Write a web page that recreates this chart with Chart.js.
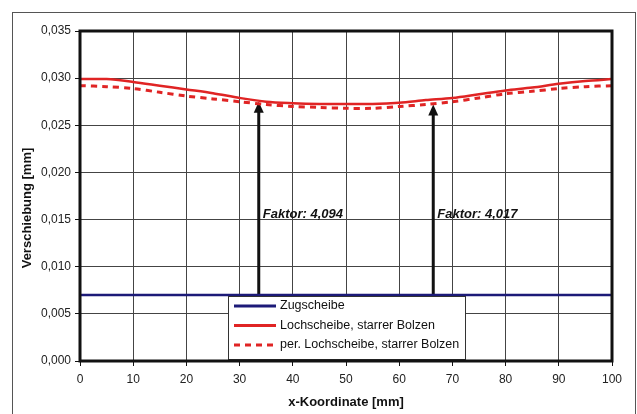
<!DOCTYPE html>
<html>
<head>
<meta charset="utf-8">
<script src="https://cdn.jsdelivr.net/npm/chart.js@4"></script>
<style>
  html, body { margin: 0; padding: 0; background: #fff; }
  #wrap { width: 637px; height: 414px; position: relative; }
</style>
</head>
<body>
<div id="wrap"><canvas id="chartVerschiebung"></canvas></div>
<script>
// Daten
const xKoord = [0, 5, 10, 15, 20, 25, 30, 35, 40, 45, 50, 55, 60, 65, 70, 75, 80, 85, 90, 95, 100];
const zugscheibe = [0.0070, 0.0070, 0.0070, 0.0070, 0.0070, 0.0070, 0.0070, 0.0070, 0.0070, 0.0070, 0.0070,
                    0.0070, 0.0070, 0.0070, 0.0070, 0.0070, 0.0070, 0.0070, 0.0070, 0.0070, 0.0070];
const lochscheibe = [0.0299, 0.0299, 0.0296, 0.0292, 0.0288, 0.0284, 0.0279, 0.0275, 0.02735, 0.02727, 0.02725,
                     0.02727, 0.0274, 0.02767, 0.0279, 0.0283, 0.0287, 0.0290, 0.0294, 0.0297, 0.0299];
const perLochscheibe = [0.0292, 0.0291, 0.0289, 0.0285, 0.0281, 0.0278, 0.0275, 0.0272, 0.0270, 0.0269, 0.0268,
                        0.0268, 0.0270, 0.0272, 0.0275, 0.0279, 0.02835, 0.0286, 0.0289, 0.0291, 0.0292];
const yTicks = [0, 0.005, 0.010, 0.015, 0.020, 0.025, 0.030, 0.035];
const seriesNames = ["Zugscheibe", "Lochscheibe, starrer Bolzen", "per. Lochscheibe, starrer Bolzen"];
const yTitel = "Verschiebung [mm]";
const xTitel = "x-Koordinate [mm]";

// Pfeile mit Faktor
const pfeilX = [33.6, 66.4];
const pfeilOben = [0.0275, 0.0272];
const pfeilUnten = 0.0070;
const faktorText = ["Faktor: 4,094", "Faktor: 4,017"];
const faktorY = 0.0155;

const FONT = "'Liberation Sans', Arial, sans-serif";
const NAVY = "#1c1a78";
const RED = "#e02424";

const toPoints = arr => arr.map((v, i) => ({ x: xKoord[i], y: v }));

const chartPlugin = {
    id: "excelStyle",
    beforeDraw(chart) {
        const ctx = chart.ctx;
        ctx.save();
        ctx.fillStyle = "#fff";
        ctx.fillRect(0, 0, chart.width, chart.height);
        ctx.strokeStyle = "#555";
        ctx.lineWidth = 1;
        ctx.strokeRect(12.5, 12.5, 623, 410);
        ctx.restore();
    },
    beforeDatasetsDraw(chart) {
        const ctx = chart.ctx;
        const xs = chart.scales.x, ys = chart.scales.y;
        ctx.save();
        pfeilX.forEach((xv, i) => {
            const px = xs.getPixelForValue(xv);
            const top = ys.getPixelForValue(pfeilOben[i]);
            const bottom = ys.getPixelForValue(pfeilUnten);
            ctx.strokeStyle = "#111";
            ctx.lineWidth = 3;
            ctx.beginPath();
            ctx.moveTo(px, bottom);
            ctx.lineTo(px, top + 9);
            ctx.stroke();
            ctx.fillStyle = "#111";
            ctx.beginPath();
            ctx.moveTo(px, top);
            ctx.lineTo(px - 5, top + 11);
            ctx.lineTo(px + 5, top + 11);
            ctx.closePath();
            ctx.fill();

            ctx.font = "italic bold 13px " + FONT;
            ctx.textBaseline = "middle";
            ctx.textAlign = "left";
            ctx.fillStyle = "#111";
            ctx.fillText(faktorText[i], px + 4, ys.getPixelForValue(faktorY));
        });
        ctx.restore();
    },
    afterDatasetsDraw(chart) {
        const ctx = chart.ctx;
        const a = chart.chartArea;
        ctx.save();
        // Legende
        const lx = 228, ly = 296, lw = 237, lh = 63;
        ctx.fillStyle = "#fff";
        ctx.fillRect(lx, ly, lw, lh);
        ctx.strokeStyle = "#333";
        ctx.lineWidth = 1;
        ctx.strokeRect(lx + 0.5, ly + 0.5, lw, lh);
        const styles = [
            { color: NAVY, dash: [] },
            { color: RED, dash: [] },
            { color: RED, dash: [6, 5] }
        ];
        seriesNames.forEach((name, i) => {
            const y = ly + 10 + i * 19.5;
            ctx.strokeStyle = styles[i].color;
            ctx.lineWidth = 3;
            ctx.setLineDash(styles[i].dash);
            ctx.beginPath();
            ctx.moveTo(lx + 6, y);
            ctx.lineTo(lx + 48, y);
            ctx.stroke();
            ctx.setLineDash([]);
            ctx.fillStyle = "#111";
            ctx.font = "12.5px " + FONT;
            ctx.textBaseline = "middle";
            ctx.textAlign = "left";
            ctx.fillText(name, lx + 52, y);
        });
        // Rahmen der Zeichnungsfläche
        ctx.strokeStyle = "#111";
        ctx.lineWidth = 3;
        ctx.strokeRect(a.left, a.top, a.right - a.left, a.bottom - a.top);

        // y-Achsentitel
        ctx.translate(27, 208);
        ctx.rotate(-Math.PI / 2);
        ctx.font = "bold 13px " + FONT;
        ctx.fillStyle = "#111";
        ctx.textAlign = "center";
        ctx.textBaseline = "middle";
        ctx.fillText(yTitel, 0, 0);
        ctx.restore();
    }
};

new Chart(document.getElementById("chartVerschiebung"), {
    type: "line",
    data: {
        datasets: [{
            label: seriesNames[0],
            data: toPoints(zugscheibe),
            borderColor: NAVY,
            borderWidth: 2.5,
            pointRadius: 0,
            tension: 0
        }, {
            label: seriesNames[1],
            data: toPoints(lochscheibe),
            borderColor: RED,
            borderWidth: 2.5,
            pointRadius: 0,
            tension: 0.3
        }, {
            label: seriesNames[2],
            data: toPoints(perLochscheibe),
            borderColor: RED,
            borderWidth: 3,
            borderDash: [6, 5],
            pointRadius: 0,
            tension: 0.3
        }]
    },
    options: {
        responsive: true,
        maintainAspectRatio: false,
        animation: false,
        layout: { padding: { left: 0, right: 25, top: 31, bottom: 0 } },
        plugins: {
            legend: { display: false },
            tooltip: { enabled: false }
        },
        scales: {
            x: {
                type: "linear",
                min: 0,
                max: 100,
                ticks: { stepSize: 10, color: "#222", padding: 6, font: { family: FONT, size: 12 } },
                grid: { color: "#444", lineWidth: 1, tickLength: 5, tickColor: "#111" },
                border: { display: false },
                title: {
                    display: true,
                    text: xTitel,
                    color: "#111",
                    font: { family: FONT, size: 13, weight: "bold" },
                    padding: { top: 0, bottom: 4 }
                },
                afterFit: scale => { scale.height = 53; }
            },
            y: {
                type: "linear",
                min: 0,
                max: 0.035,
                afterBuildTicks: scale => { scale.ticks = yTicks.map(v => ({ value: v })); },
                ticks: {
                    color: "#222",
                    padding: 4,
                    font: { family: FONT, size: 12 },
                    callback: v => v.toFixed(3).replace(".", ",")
                },
                grid: { color: "#444", lineWidth: 1, tickLength: 5, tickColor: "#111" },
                border: { display: false },
                title: { display: false },
                afterFit: scale => { scale.width = 80; }
            }
        }
    },
    plugins: [chartPlugin]
});
</script>
</body>
</html>
